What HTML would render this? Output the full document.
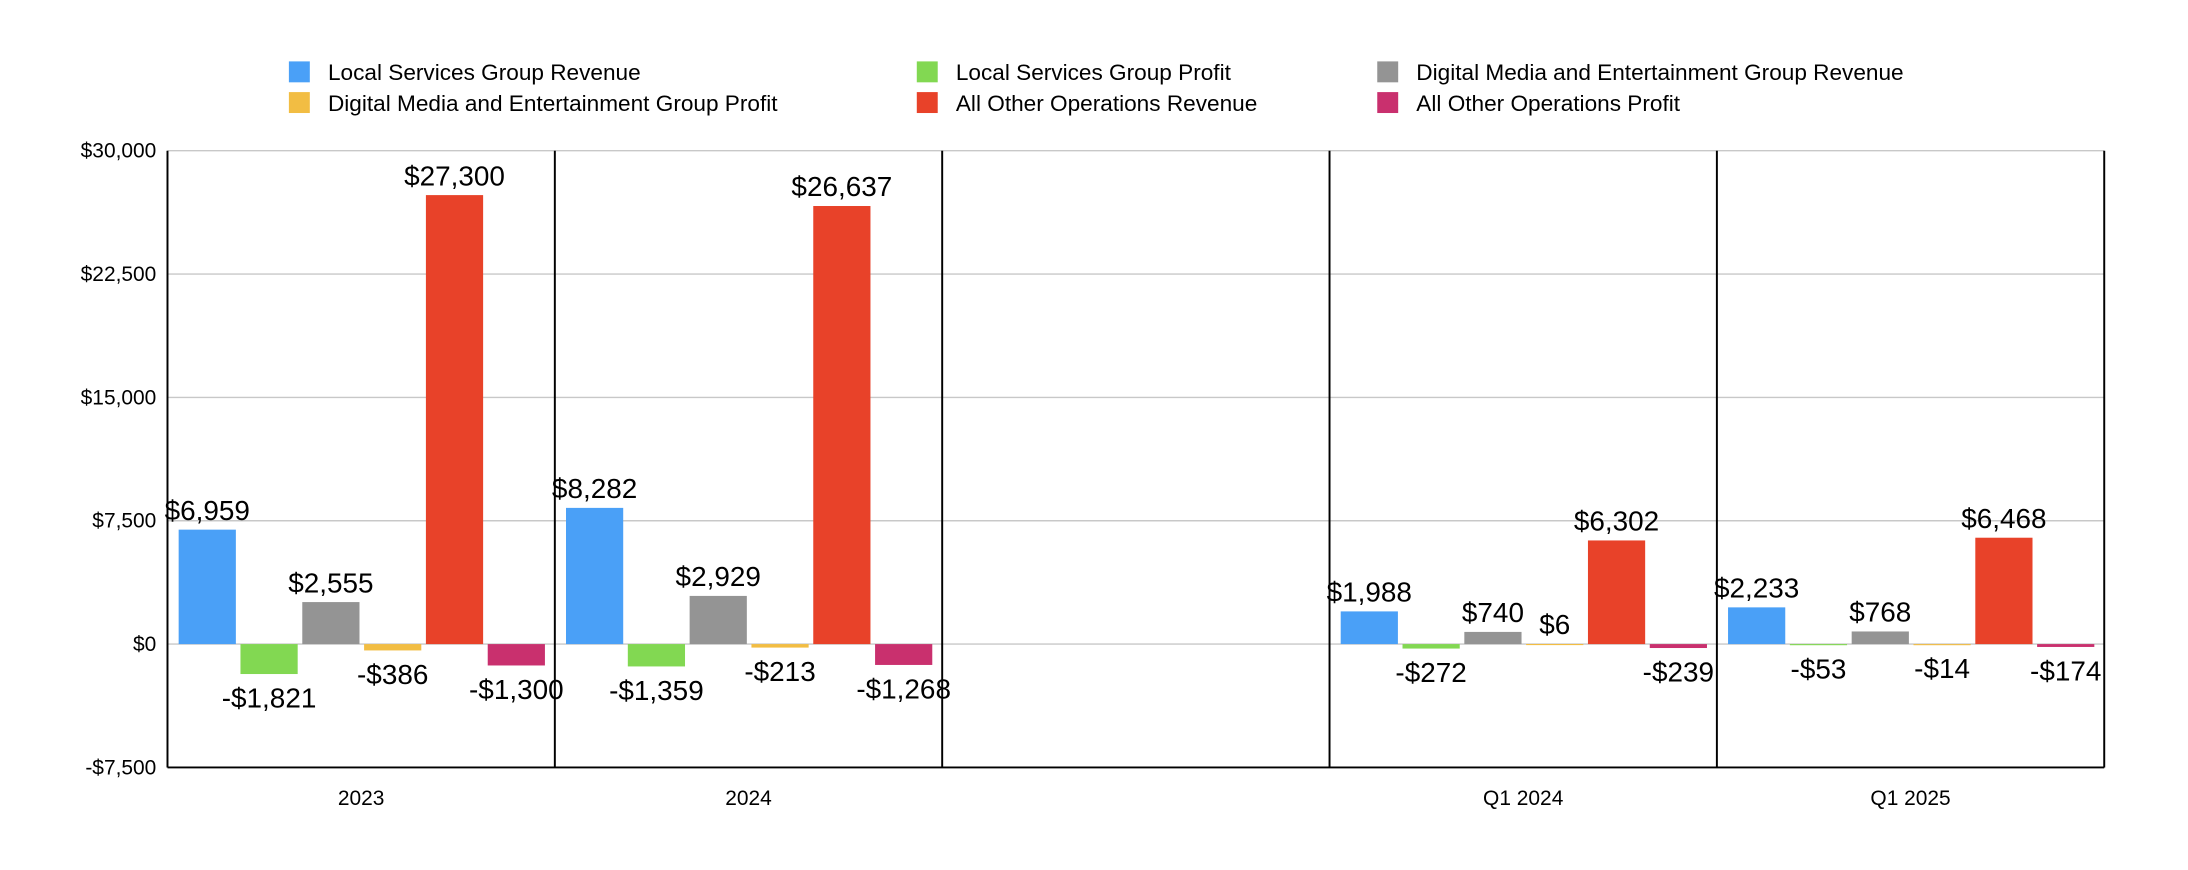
<!DOCTYPE html>
<html><head><meta charset="utf-8"><style>
html,body{margin:0;padding:0;background:#fff}
svg{display:block;font-family:"Liberation Sans",Arial,sans-serif}
</style></head><body>
<svg id="chart" width="2188" height="870" viewBox="0 0 1568 623.5" xmlns="http://www.w3.org/2000/svg"></svg>
<script>
const categories = ["2023","2024","","Q1 2024","Q1 2025"];
const seriesNames = ["Local Services Group Revenue","Local Services Group Profit","Digital Media and Entertainment Group Revenue","Digital Media and Entertainment Group Profit","All Other Operations Revenue","All Other Operations Profit"];
const seriesColors = ["#4aa0f7","#82d852","#949494","#f2bd43","#e84229","#c9306e"];
const lsRevenue = [6959,8282,null,1988,2233];
const lsProfit = [-1821,-1359,null,-272,-53];
const dmRevenue = [2555,2929,null,740,768];
const dmProfit = [-386,-213,null,6,-14];
const aoRevenue = [27300,26637,null,6302,6468];
const aoProfit = [-1300,-1268,null,-239,-174];
const yTicks = [-7500,0,7500,15000,22500,30000];
const yTickLabels = ["-$7,500","$0","$7,500","$15,000","$22,500","$30,000"];
const series = [lsRevenue,lsProfit,dmRevenue,dmProfit,aoRevenue,aoProfit];

const svg = document.getElementById('chart');
const NS = "http://www.w3.org/2000/svg";
const L=120,R=1508,T=108,B=550,yMin=-7500,yMax=30000;
const y = v => B - (v - yMin)/(yMax - yMin)*(B - T);
const slotW = (R-L)/categories.length;
const x0 = i => L + i*slotW;
function mk(tag, attrs, txt){const e=document.createElementNS(NS,tag);for(const k in attrs)e.setAttribute(k,attrs[k]);if(txt!==undefined)e.textContent=txt;svg.appendChild(e);return e;}
const fmt = v => (v<0?"-$":"$") + Math.abs(v).toLocaleString("en-US");

yTicks.forEach((t,i)=>{
  const g = mk('line',{x1:L,x2:R,y1:y(t),y2:y(t),stroke:'#c8c8c8','stroke-width':1});
  
  
  const tl = mk('text',{x:L-8,y:y(t)+5,'text-anchor':'end','font-size':15,fill:'#000'},yTickLabels[i]);
  
  
});

const pad=8, step=44.3, bw=41;
categories.forEach((c,i)=>{
  series.forEach((s,j)=>{
    const v=s[i]; if(v===null||v===undefined) return;
    const bx = x0(i)+pad+j*step;
    const top = Math.min(y(v),y(0)), h=Math.max(Math.abs(y(v)-y(0)),0.8);
    const r = mk('rect',{x:bx,y:top,width:bw,height:h,fill:seriesColors[j]});
    
    
    const ly = v>=0 ? y(v)-7 : y(v)+24;
    const t = mk('text',{x:bx+bw/2,y:ly,'text-anchor':'middle','font-size':20,fill:'#000'},fmt(v));
    
    
  });
  const xl = mk('text',{x:x0(i)+slotW/2,y:577,'text-anchor':'middle','font-size':15,fill:'#000'},c);
  
  
});

for(let i=0;i<=categories.length;i++){
  const v = mk('line',{x1:x0(i),x2:x0(i),y1:T,y2:B,stroke:'#000','stroke-width':1.4});
  
  
}
const bl = mk('line',{x1:L,x2:R,y1:B,y2:B,stroke:'#000','stroke-width':1.4});



const legX=[207,657,987], legY=[44,66];
seriesNames.forEach((n,k)=>{
  const col=k%3,row=Math.floor(k/3);
  const sq = mk('rect',{x:legX[col],y:legY[row],width:15,height:15,fill:seriesColors[k]});
  
  
  const lt = mk('text',{x:legX[col]+28,y:legY[row]+13.5,'font-size':16.2,fill:'#000'},n);
  
  
});
</script>
</body></html>
